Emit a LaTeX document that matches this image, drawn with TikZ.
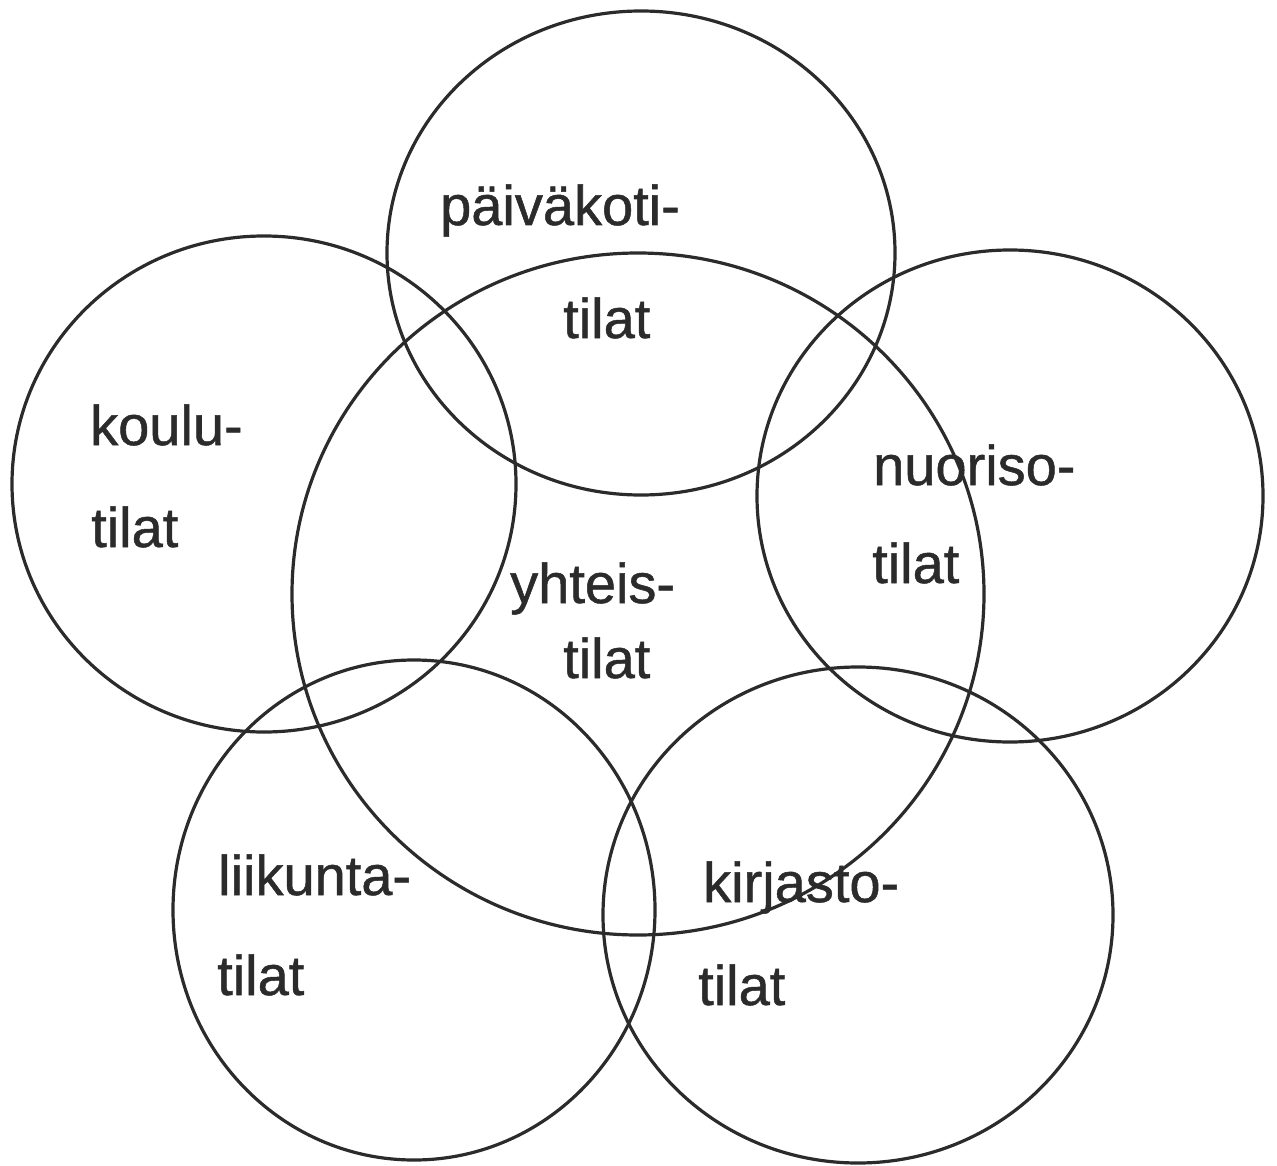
\documentclass[tikz,border=0pt]{standalone}
\usepackage{fontspec}
\setmainfont{Liberation Sans}
\newfontfamily\scanfont{Liberation Sans}[FakeBold=0.9]
\definecolor{ink}{HTML}{2B2B2B}
\tikzset{
	ring/.style={draw=ink, line width=3.2pt},
	lbl/.style={anchor=base west, inner sep=0pt, text=ink, font=\scanfont\fontsize{56}{60}\selectfont}
}
\begin{document}
\begin{tikzpicture}[x=1pt, y=-1pt]
		\useasboundingbox (0,0) rectangle (1277,1166);
		
		% Circles
		\draw[ring] (641,253) ellipse [x radius=254, y radius=242];
		\draw[ring] (264,484) ellipse [x radius=252, y radius=248];
		\draw[ring] (638,594) ellipse [x radius=346, y radius=341];
		\draw[ring] (1010,496) ellipse [x radius=253, y radius=246];
		\draw[ring] (414,910) ellipse [x radius=241, y radius=250];
		\draw[ring] (858,915) ellipse [x radius=255, y radius=248];
		
		% Labels
		\node[lbl] (paiva) at (440,225) {päiväkoti-};
		\node[lbl] (paivatila) at (563,338) {tilat};
		\node[lbl] (koulu) at (90,445) {koulu-};
		\node[lbl] (koulutila) at (91,547) {tilat};
		\node[lbl] (nuoriso) at (873,485) {nuoriso-};
		\node[lbl] (nuorisotila) at (872,583) {tilat};
		\node[lbl] (yhteis) at (510,603) {yhteis-};
		\node[lbl] (yhteistila) at (563,678) {tilat};
		\node[lbl] (liikunta) at (218,895) {liikunta-};
		\node[lbl] (liikuntatila) at (217,995) {tilat};
		\node[lbl] (kirjasto) at (703,902) {kirjasto-};
		\node[lbl] (kirjastotila) at (698,1005) {tilat};
	\end{tikzpicture}
\end{document}
